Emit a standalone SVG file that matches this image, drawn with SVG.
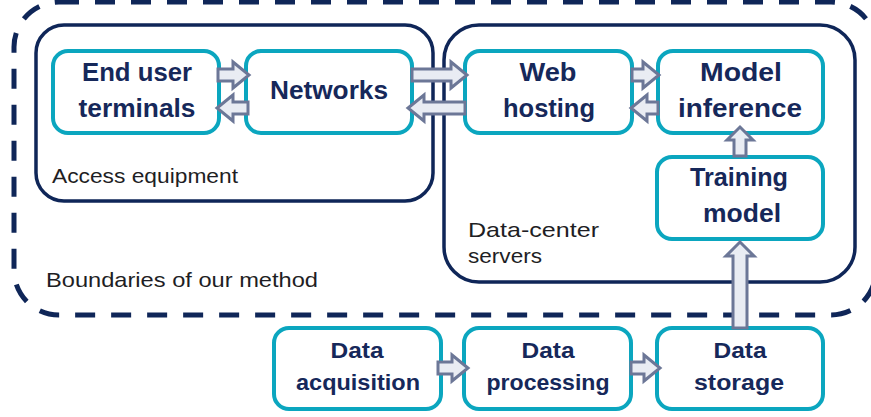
<svg xmlns="http://www.w3.org/2000/svg" width="871" height="417" viewBox="0 0 871 417">
<style>
.bound{fill:none;stroke:#0f2658;stroke-width:5;stroke-dasharray:20 16}
.group{fill:none;stroke:#0f2658;stroke-width:3.5}
.node rect{fill:#ffffff;stroke:#0ba6bf;stroke-width:4}
.lbl{font-family:"Liberation Sans",Arial,sans-serif;font-weight:bold;font-size:25px;fill:#16285a;text-anchor:middle}
.lbl2{font-family:"Liberation Sans",Arial,sans-serif;font-weight:bold;font-size:22px;fill:#16285a;text-anchor:middle}
.cap{font-family:"Liberation Sans",Arial,sans-serif;font-size:21px;fill:#1e1e24}
.arr{fill:#e9ecf3;stroke:#6c7797;stroke-width:3;stroke-linejoin:miter}
</style>
<g id="boundary">
<rect class="bound" x="14" y="2" width="862" height="313" rx="45" ry="45"/>
<text class="cap" x="46" y="287" textLength="272" lengthAdjust="spacingAndGlyphs">Boundaries of our method</text>
</g>
<g id="access-equipment">
<rect class="group" x="36" y="25" width="397" height="176" rx="28" ry="28"/>
<text class="cap" x="52" y="183" textLength="186" lengthAdjust="spacingAndGlyphs">Access equipment</text>
</g>
<g id="data-center">
<rect class="group" x="444" y="25" width="411" height="257" rx="35" ry="35"/>
<text class="cap" x="468" y="237" textLength="131" lengthAdjust="spacingAndGlyphs">Data-center</text>
<text class="cap" x="468" y="263" textLength="74" lengthAdjust="spacingAndGlyphs">servers</text>
</g>
<g id="end-user" class="node">
<rect x="53" y="51" width="166" height="82" rx="15" ry="15"/>
<text class="lbl" x="137" y="81" textLength="110" lengthAdjust="spacingAndGlyphs">End user</text>
<text class="lbl" x="137" y="117" textLength="117" lengthAdjust="spacingAndGlyphs">terminals</text>
</g>
<g id="networks" class="node">
<rect x="246" y="51" width="166" height="82" rx="15" ry="15"/>
<text class="lbl" x="329" y="99" textLength="118" lengthAdjust="spacingAndGlyphs">Networks</text>
</g>
<g id="web-hosting" class="node">
<rect x="465" y="51" width="167" height="82" rx="15" ry="15"/>
<text class="lbl" x="548" y="81" textLength="57" lengthAdjust="spacingAndGlyphs">Web</text>
<text class="lbl" x="549" y="117" textLength="92" lengthAdjust="spacingAndGlyphs">hosting</text>
</g>
<g id="model-inference" class="node">
<rect x="658" y="51" width="165" height="82" rx="15" ry="15"/>
<text class="lbl" x="741" y="81" textLength="82" lengthAdjust="spacingAndGlyphs">Model</text>
<text class="lbl" x="740" y="117" textLength="124" lengthAdjust="spacingAndGlyphs">inference</text>
</g>
<g id="training-model" class="node">
<rect x="657" y="157" width="166" height="82" rx="15" ry="15"/>
<text class="lbl" x="739" y="186" textLength="98" lengthAdjust="spacingAndGlyphs">Training</text>
<text class="lbl" x="742" y="222" textLength="78" lengthAdjust="spacingAndGlyphs">model</text>
</g>
<g id="data-acquisition" class="node">
<rect x="274" y="328" width="167" height="81" rx="15" ry="15"/>
<text class="lbl2" x="357" y="358" textLength="53" lengthAdjust="spacingAndGlyphs">Data</text>
<text class="lbl2" x="358" y="390" textLength="124" lengthAdjust="spacingAndGlyphs">acquisition</text>
</g>
<g id="data-processing" class="node">
<rect x="464" y="328" width="167" height="81" rx="15" ry="15"/>
<text class="lbl2" x="548" y="358" textLength="53" lengthAdjust="spacingAndGlyphs">Data</text>
<text class="lbl2" x="548" y="390" textLength="123" lengthAdjust="spacingAndGlyphs">processing</text>
</g>
<g id="data-storage" class="node">
<rect x="657" y="328" width="166" height="81" rx="15" ry="15"/>
<text class="lbl2" x="740" y="358" textLength="53" lengthAdjust="spacingAndGlyphs">Data</text>
<text class="lbl2" x="739" y="390" textLength="90" lengthAdjust="spacingAndGlyphs">storage</text>
</g>
<g id="connectors">
<path class="arr" d="M218,69 H233 V62 L249,75 L233,88 V81 H218 Z"/>
<path class="arr" d="M248,102 H233 V95 L217,108 L233,121 V114 H248 Z"/>
<path class="arr" d="M412,69 H451 V62 L467,75 L451,88 V81 H412 Z"/>
<path class="arr" d="M465,102 H424 V95 L408,108 L424,121 V114 H465 Z"/>
<path class="arr" d="M632,69 H643 V62 L659,75 L643,88 V81 H632 Z"/>
<path class="arr" d="M658,102 H647 V95 L631,108 L647,121 V114 H658 Z"/>
<path class="arr" d="M734,156 V140 H727 L740,127 L753,140 H746 V156 Z"/>
<path class="arr" d="M733,328 V256 H726 L740,242 L754,256 H747 V328 Z"/>
<path class="arr" d="M438,362 H452 V355 L468,368 L452,381 V374 H438 Z"/>
<path class="arr" d="M631,362 H644 V355 L660,368 L644,381 V374 H631 Z"/>
</g>
</svg>
